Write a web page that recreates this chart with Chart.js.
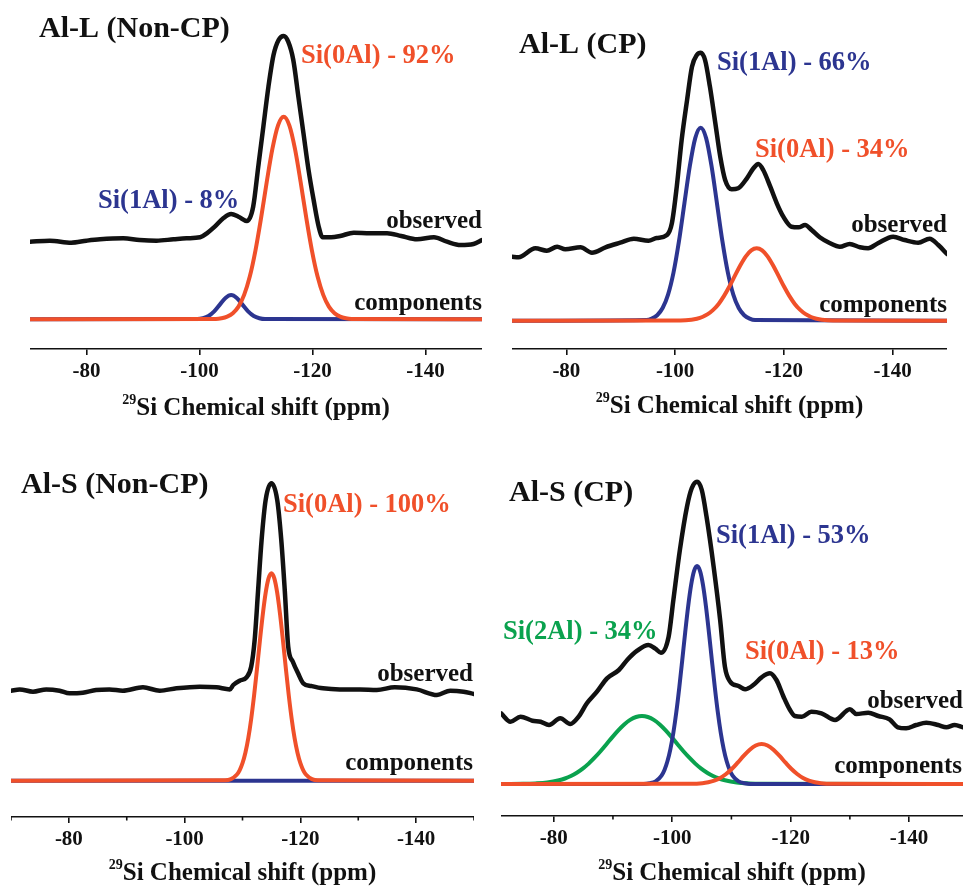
<!DOCTYPE html>
<html><head><meta charset="utf-8">
<script src="https://cdn.jsdelivr.net/npm/chart.js@4.4.0/dist/chart.umd.min.js"></script>
<style>
html,body{margin:0;padding:0;background:#fff;}
body{width:966px;height:888px;position:relative;overflow:hidden;}
.panel{position:absolute;}
canvas{display:block;}
</style></head><body>
<div class="panel" id="p1"><canvas id="c1"></canvas></div>
<div class="panel" id="p2"><canvas id="c2"></canvas></div>
<div class="panel" id="p3"><canvas id="c3"></canvas></div>
<div class="panel" id="p4"><canvas id="c4"></canvas></div>
<script>
// ---------------- DATA (ppm, intensity) ----------------
const majorTicks = [-80, -100, -120, -140];
const tickLabels = ['-80', '-100', '-120', '-140'];
const minorTicks = [-90, -110, -130];
const axisTitleSup = '29';
const axisTitleMain = 'Si Chemical shift (ppm)';
const panelTitles = ['Al-L (Non-CP)', 'Al-L (CP)', 'Al-S (Non-CP)', 'Al-S (CP)'];
const componentLabels = [
  ['Si(0Al) - 92%', 'Si(1Al) - 8%'],
  ['Si(1Al) - 66%', 'Si(0Al) - 34%'],
  ['Si(0Al) - 100%'],
  ['Si(1Al) - 53%', 'Si(2Al) - 34%', 'Si(0Al) - 13%']
];
const traceLabels = ['observed', 'components'];

// Panel 1: Al-L (Non-CP)
const alL_nonCP_observed = [[-70,77.6],[-73.5,78.6],[-77.3,76.6],[-80,78.6],[-82.4,80],[-86.5,81],[-89.4,79.3],[-92.4,78.6],[-95.4,80],[-97.7,81],[-100.1,82],[-101.3,86],[-102.7,92.6],[-104.2,101],[-105.6,105.3],[-106.9,102.6],[-108.4,98.3],[-109.5,112.6],[-110.4,152.6],[-111.3,192.6],[-112.2,232.6],[-113.1,264.3],[-114,279.3],[-114.9,283.3],[-115.7,277.6],[-116.6,259.3],[-117.5,222.6],[-118.4,186],[-119.3,149.3],[-120.2,119.3],[-121.1,92.6],[-121.8,82],[-123.3,82],[-124.9,83.3],[-127.3,86.6],[-130.2,86],[-133.2,86],[-135.7,83.3],[-138.5,80],[-141.5,82],[-143.8,77.6],[-146.2,74.3],[-148.5,75.3],[-150,79.3]];
const alL_nonCP_si0Al = [[-70,0],[-102.9,0.4],[-103.9,1.1],[-104.9,2.7],[-105.9,6.1],[-106.9,12.7],[-107.9,24.4],[-108.9,42.7],[-109.9,68.7],[-110.9,101.4],[-111.9,137.3],[-112.9,170.4],[-113.9,194],[-114.9,202.6],[-115.9,194],[-116.9,170.4],[-117.9,137.3],[-118.9,101.4],[-119.9,68.7],[-120.9,42.7],[-121.9,24.4],[-122.9,12.7],[-123.9,6.1],[-124.9,2.7],[-125.9,1.1],[-126.9,0.4],[-150,0]];
const alL_nonCP_si1Al = [[-70,0],[-99.6,0.3],[-100.6,1.1],[-101.6,3.3],[-102.6,7.9],[-103.6,14.7],[-104.6,21.4],[-105.6,24.3],[-106.6,21.4],[-107.6,14.7],[-108.6,7.9],[-109.6,3.3],[-110.6,1.1],[-111.6,0.3],[-150,0]];

// Panel 2: Al-L (CP)
const alL_CP_observed = [[-70,64],[-71.2,63.4],[-74.3,72.4],[-76.4,70],[-78.3,74],[-79.8,71.4],[-82.6,73.4],[-84.7,68],[-87.2,73.4],[-89.9,78],[-92.4,82],[-95.1,80],[-96.6,82.7],[-98.5,85.7],[-99.4,97.4],[-100.3,134],[-101.2,180.7],[-102.2,220.7],[-103.1,254],[-104,265.7],[-104.7,268],[-105.5,260.7],[-106.4,234],[-107.4,197.4],[-108.3,164],[-109.2,140.7],[-110.4,131.4],[-111.6,132.4],[-113.2,142.4],[-114.4,152.4],[-115.3,156.7],[-116.2,150.7],[-117.5,134],[-118.7,117.4],[-119.9,104],[-121.4,94],[-122.7,93.4],[-123.9,95.7],[-125.1,90.7],[-126.6,83.4],[-128.5,77.4],[-130.3,74],[-132.1,76.7],[-134,73.4],[-135.5,72.4],[-137.3,77.4],[-140.1,84],[-142.2,80.7],[-144.7,78],[-146.8,82],[-148.4,75.7],[-150,66.7]];
const alL_CP_si1Al = [[-70,0],[-94.7,0.7],[-95.7,2.1],[-96.7,5.5],[-97.7,12.7],[-98.7,26.1],[-99.7,48.1],[-100.7,79.3],[-101.7,117.1],[-102.7,154.5],[-103.7,182.6],[-104.7,193],[-105.7,182.6],[-106.7,154.5],[-107.7,117.1],[-108.7,79.3],[-109.7,48.1],[-110.7,26.1],[-111.7,12.7],[-112.7,5.5],[-113.7,2.1],[-114.7,0.7],[-150,0]];
const alL_CP_si0Al = [[-70,0],[-101,0.2],[-103,1],[-104,2],[-105,3.7],[-106,6.5],[-107,10.8],[-108,16.8],[-109,24.8],[-110,34.4],[-111,45],[-112,55.4],[-113,64.3],[-114,70.3],[-115,72.4],[-116,70.3],[-117,64.3],[-118,55.4],[-119,45],[-120,34.4],[-121,24.8],[-122,16.8],[-123,10.8],[-124,6.5],[-125,3.7],[-126,2],[-127,1],[-129,0.2],[-150,0]];

// Panel 3: Al-S (Non-CP)
const alS_nonCP_observed = [[-70,90],[-71.5,91.3],[-73.8,89],[-76.1,91.3],[-78.4,90],[-80.1,87.4],[-82.4,88],[-84.7,90.7],[-87,91.3],[-89.3,90],[-92.8,93.4],[-95.7,90],[-98.6,92.4],[-102.6,94],[-105.5,93.4],[-107.8,91.3],[-108.4,95.7],[-109.5,100],[-110.7,103.4],[-111.5,114],[-112.1,140.7],[-112.7,190.7],[-113.3,240.7],[-114,280.7],[-115,297.4],[-116,280.7],[-116.7,240.7],[-117.3,190.7],[-117.9,134],[-118.7,119],[-119.6,107.4],[-120.5,97.4],[-121.9,94.7],[-123.9,92.4],[-126.8,91.3],[-130.3,91.3],[-133.2,90.7],[-136.3,93.4],[-140.1,91.3],[-143.6,85.7],[-145.9,90],[-148.2,89],[-150,86.7]];
const alS_nonCP_si0Al = [[-70,0],[-107,0.4],[-108,1.6],[-109,5.9],[-109.5,10.4],[-110,17.5],[-110.5,27.9],[-111,42.5],[-111.5,61.7],[-112,85.1],[-112.5,111.7],[-113,139.6],[-113.5,166],[-114,187.8],[-114.5,202.3],[-115,207.4],[-115.5,202.3],[-116,187.8],[-116.5,166],[-117,139.6],[-117.5,111.7],[-118,85.1],[-118.5,61.7],[-119,42.5],[-119.5,27.9],[-120,17.5],[-120.5,10.4],[-121,5.9],[-122,1.6],[-123,0.4],[-150,0]];
const alS_nonCP_si1Al = [[-70,0],[-150,0]];

// Panel 4: Al-S (CP)
const alS_CP_observed = [[-71.1,70.7],[-72.7,62.3],[-74.4,67.3],[-76.4,63.3],[-77.8,62.3],[-79.2,59],[-81.1,65.7],[-82.8,60],[-84.2,67.3],[-85.6,80.7],[-87.3,92.3],[-89,105.7],[-91,114],[-92.4,124],[-94.1,133.3],[-96,139],[-97.1,135.7],[-98.1,131.3],[-99.4,147.3],[-100.2,184],[-101.3,234],[-102.5,277.3],[-103.3,295.7],[-104.2,302.3],[-105,294],[-105.8,267.3],[-107,217.3],[-108.1,164],[-108.9,117.3],[-109.8,102.3],[-111.2,98],[-112.3,94.7],[-113.7,99],[-115.1,106.7],[-116.5,110.7],[-117.6,104],[-118.8,87.3],[-119.9,74],[-120.7,68],[-121.9,67.3],[-123.5,72.3],[-125.2,70.7],[-127.5,64],[-130,74.7],[-131.1,70],[-133.1,71.3],[-134.8,68],[-136.7,64.7],[-138.1,56.7],[-139.5,55.7],[-141.2,59],[-142.9,61.3],[-144.9,59],[-146.3,56.7],[-147.7,59],[-149.1,56.7]];
const alS_CP_si1Al = [[-70,0],[-95.2,0],[-96.2,0.7],[-97.2,2.6],[-98.2,8.4],[-98.7,14.1],[-99.2,22.7],[-99.7,34.9],[-100.2,51.2],[-100.7,71.9],[-101.2,96.6],[-101.7,123.8],[-102.2,151.8],[-102.7,177.8],[-103.2,199.1],[-103.7,213.1],[-104.2,218],[-104.7,213.1],[-105.2,199.1],[-105.7,177.8],[-106.2,151.8],[-106.7,123.8],[-107.2,96.6],[-107.7,71.9],[-108.2,51.2],[-108.7,34.9],[-109.2,22.7],[-109.7,14.1],[-110.2,8.4],[-111.2,2.6],[-112.2,0.7],[-113.2,0],[-150,0]];
const alS_CP_si2Al = [[-70,0],[-74.9,0.2],[-76.9,0.6],[-78.9,1.5],[-80.9,3.7],[-81.9,5.5],[-82.9,8],[-83.9,11.3],[-84.9,15.4],[-85.9,20.4],[-86.9,26.3],[-87.9,32.8],[-88.9,39.8],[-89.9,46.9],[-90.9,53.6],[-91.9,59.5],[-92.9,64.1],[-93.9,67],[-94.9,68],[-95.9,67],[-96.9,64.1],[-97.9,59.5],[-98.9,53.6],[-99.9,46.9],[-100.9,39.8],[-101.9,32.8],[-102.9,26.3],[-103.9,20.4],[-104.9,15.4],[-105.9,11.3],[-106.9,8],[-107.9,5.5],[-108.9,3.7],[-110.9,1.5],[-112.9,0.6],[-114.9,0.2],[-150,0]];
const alS_CP_si0Al = [[-70,0],[-103.1,0.2],[-105.1,0.8],[-106.1,1.8],[-107.1,3.4],[-108.1,6],[-109.1,10],[-110.1,15.2],[-111.1,21.6],[-112.1,28.3],[-113.1,34.3],[-114.1,38.5],[-115.1,40],[-116.1,38.5],[-117.1,34.3],[-118.1,28.3],[-119.1,21.6],[-120.1,15.2],[-121.1,10],[-122.1,6],[-123.1,3.4],[-124.1,1.8],[-125.1,0.8],[-127.1,0.2],[-150,0]];

// ---------------- STYLE ----------------
const FONT = '"Liberation Serif", "Times New Roman", serif';
const BLACK = '#111111';
const ORANGE = '#f0502a';
const BLUE = '#2c3590';
const GREEN = '#0aa24e';
const COMP_W = 4;
const OBS_W = 4.5;

function pts(arr){ return arr.map(p => ({x: p[0], y: p[1]})); }
function ds(arr, color, width){
  return {data: pts(arr), borderColor: color, borderWidth: width, pointRadius: 0,
          cubicInterpolationMode: 'monotone', fill: false, borderCapStyle: 'round', borderJoinStyle: 'round'};
}

const panels = [
  { id: 1, left: 30, top: 0, width: 452, height: 430, plotH: 349, xMin: -150, xMax: -70, yMin: -29.7, yMax: 319.3,
    minor: [], titleOff: 66,
    datasets: [ds(alL_nonCP_si0Al, ORANGE, COMP_W), ds(alL_nonCP_si1Al, BLUE, COMP_W), ds(alL_nonCP_observed, BLACK, OBS_W)],
    labels: [
      {text: panelTitles[0], x: 9, y: 37, size: 30, color: BLACK},
      {text: componentLabels[0][0], x: 271, y: 63, size: 26.5, color: ORANGE},
      {text: componentLabels[0][1], x: 68, y: 208, size: 26.5, color: BLUE},
      {text: traceLabels[0], x: 452, y: 228, size: 25, color: BLACK, align: 'right'},
      {text: traceLabels[1], x: 452, y: 310, size: 25, color: BLACK, align: 'right'}
    ]},
  { id: 2, left: 512, top: 0, width: 435, height: 430, plotH: 349, xMin: -150, xMax: -70, yMin: -28.3, yMax: 320.7,
    minor: [], titleOff: 64,
    datasets: [ds(alL_CP_si0Al, ORANGE, COMP_W), ds(alL_CP_si1Al, BLUE, COMP_W), ds(alL_CP_observed, BLACK, OBS_W)],
    labels: [
      {text: panelTitles[1], x: 7, y: 53, size: 30, color: BLACK},
      {text: componentLabels[1][0], x: 205, y: 70, size: 26.5, color: BLUE},
      {text: componentLabels[1][1], x: 243, y: 157, size: 26.5, color: ORANGE},
      {text: traceLabels[0], x: 435, y: 232, size: 25, color: BLACK, align: 'right'},
      {text: traceLabels[1], x: 435, y: 312, size: 25, color: BLACK, align: 'right'}
    ]},
  { id: 3, left: 11, top: 440, width: 463, height: 448, plotH: 377, xMin: -150, xMax: -70, yMin: -36.3, yMax: 340.7,
    minor: [-70].concat(minorTicks, [-150]), titleOff: 63,
    datasets: [ds(alS_nonCP_si0Al, ORANGE, COMP_W), ds(alS_nonCP_si1Al, BLUE, COMP_W), ds(alS_nonCP_observed, BLACK, OBS_W)],
    labels: [
      {text: panelTitles[2], x: 10, y: 53, size: 30, color: BLACK},
      {text: componentLabels[2][0], x: 272, y: 72, size: 26.5, color: ORANGE},
      {text: traceLabels[0], x: 462, y: 241, size: 25, color: BLACK, align: 'right'},
      {text: traceLabels[1], x: 462, y: 330, size: 25, color: BLACK, align: 'right'}
    ]},
  { id: 4, left: 501, top: 440, width: 462, height: 448, plotH: 376, xMin: -149.1, xMax: -71.1, yMin: -32, yMax: 344,
    minor: minorTicks, titleOff: 64,
    datasets: [ds(alS_CP_si0Al, ORANGE, COMP_W), ds(alS_CP_si1Al, BLUE, COMP_W), ds(alS_CP_si2Al, GREEN, COMP_W), ds(alS_CP_observed, BLACK, OBS_W)],
    labels: [
      {text: panelTitles[3], x: 8, y: 61, size: 30, color: BLACK},
      {text: componentLabels[3][0], x: 215, y: 103, size: 26.5, color: BLUE},
      {text: componentLabels[3][1], x: 2, y: 199, size: 26.5, color: GREEN},
      {text: componentLabels[3][2], x: 244, y: 219, size: 26.5, color: ORANGE},
      {text: traceLabels[0], x: 462, y: 268, size: 25, color: BLACK, align: 'right'},
      {text: traceLabels[1], x: 461, y: 333, size: 25, color: BLACK, align: 'right'}
    ]}
];

function makeDecor(spec){
  return {
    id: 'decor' + spec.id,
    afterDraw(chart){
      const ctx = chart.ctx, a = chart.chartArea, xs = chart.scales.x;
      ctx.save();
      ctx.strokeStyle = BLACK; ctx.lineWidth = 1.6;
      spec.minor.forEach(v => {
        const px = xs.getPixelForValue(v);
        ctx.beginPath(); ctx.moveTo(px, a.bottom); ctx.lineTo(px, a.bottom + 3.5); ctx.stroke();
      });
      spec.labels.forEach(l => {
        ctx.font = 'bold ' + l.size + 'px ' + FONT;
        ctx.fillStyle = l.color;
        ctx.textAlign = l.align || 'left';
        ctx.textBaseline = 'alphabetic';
        ctx.fillText(l.text, a.left + l.x, a.top + l.y);
      });
      // axis title with superscript
      const supFont = 'bold 14px ' + FONT, mainFont = 'bold 25px ' + FONT;
      ctx.font = supFont; const wSup = ctx.measureText(axisTitleSup).width;
      ctx.font = mainFont; const wMain = ctx.measureText(axisTitleMain).width;
      const cx = (a.left + a.right) / 2;
      const x0 = cx - (wSup + wMain) / 2;
      const base = a.bottom + spec.titleOff;
      ctx.textAlign = 'left'; ctx.textBaseline = 'alphabetic'; ctx.fillStyle = BLACK;
      ctx.font = supFont; ctx.fillText(axisTitleSup, x0, base - 11);
      ctx.font = mainFont; ctx.fillText(axisTitleMain, x0 + wSup, base);
      ctx.restore();
    }
  };
}

panels.forEach(p => {
  const div = document.getElementById('p' + p.id);
  div.style.left = p.left + 'px'; div.style.top = p.top + 'px';
  div.style.width = p.width + 'px'; div.style.height = p.height + 'px';
  const cv = document.getElementById('c' + p.id);
  cv.width = p.width; cv.height = p.height;
  cv.style.width = p.width + 'px'; cv.style.height = p.height + 'px';
  const axisH = p.height - p.plotH;
  new Chart(cv, {
    type: 'line',
    data: { datasets: p.datasets },
    options: {
      responsive: false, maintainAspectRatio: false, animation: false, devicePixelRatio: 1,
      events: [],
      layout: { padding: 0 },
      plugins: { legend: { display: false }, tooltip: { enabled: false }, title: { display: false } },
      scales: {
        x: {
          type: 'linear', min: p.xMin, max: p.xMax, reverse: true,
          afterFit(s){ s.height = axisH; },
          afterBuildTicks(s){ s.ticks = majorTicks.map(v => ({ value: v })); },
          ticks: {
            autoSkip: false, maxRotation: 0, padding: 4, color: BLACK,
            font: { family: FONT, size: 21, weight: 'bold' },
            callback: (v) => { const i = majorTicks.indexOf(v); return i >= 0 ? tickLabels[i] : ''; }
          },
          grid: { display: true, drawOnChartArea: false, drawTicks: true, tickLength: 6, color: BLACK, lineWidth: 1.6 },
          border: { display: true, color: BLACK, width: 1.6 }
        },
        y: { type: 'linear', display: false, min: p.yMin, max: p.yMax }
      }
    },
    plugins: [makeDecor(p)]
  });
});
</script>
</body></html>
